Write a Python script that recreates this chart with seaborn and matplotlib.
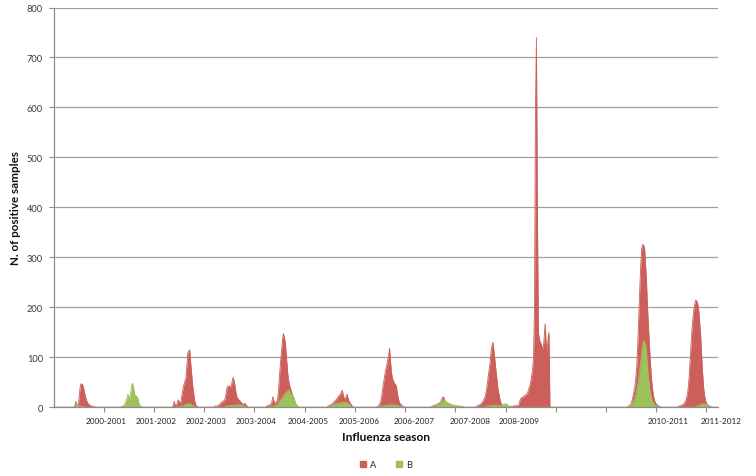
import numpy as np
import pandas as pd
import matplotlib
matplotlib.use('Agg')
import matplotlib.pyplot as plt
import seaborn as sns
from matplotlib.patches import Patch

# weekly counts of positive samples, one list per season (A = red, B = green)
season_start = [21, 69, 123, 166, 220, 283, 334, 390, 437, 594, 646]

a_2000 = [0, 3, 12, 4, 5, 10, 30, 46, 47, 46, 40, 30, 22, 15, 10, 7, 5, 4, 3, 2, 2, 1, 1, 0]
b_2000 = [0, 2, 5, 6, 3, 2, 3, 2, 2, 1, 1, 1, 0, 0, 0, 0, 0, 0, 0, 0, 0, 0, 0, 0]

a_2001 = [0, 0, 1, 1, 1, 2, 2, 2, 3, 3, 2, 3, 3, 3, 2, 2, 2, 1, 1, 1, 1, 0, 0, 0]
b_2001 = [0, 1, 2, 3, 4, 8, 13, 18, 26, 22, 17, 30, 45, 48, 38, 26, 24, 22, 20, 12, 5, 3, 1, 0]

a_2002 = [0, 5, 12, 4, 2, 8, 15, 12, 7, 12, 25, 36, 45, 52, 58, 80, 108, 112, 115, 90,
          68, 45, 30, 15, 6, 3, 1, 0]
b_2002 = [0, 0, 0, 0, 0, 0, 0, 1, 2, 2, 3, 3, 4, 5, 6, 6, 7, 8, 8, 7,
          5, 4, 3, 2, 1, 0, 0, 0]

a_2003 = [0, 2, 3, 2, 3, 4, 6, 8, 10, 12, 13, 13, 20, 32, 42, 42, 42, 43, 42, 52,
          60, 52, 42, 28, 20, 17, 15, 13, 11, 8, 6, 7, 8, 6, 3, 2, 0]
b_2003 = [0, 0, 0, 0, 0, 0, 0, 0, 0, 0, 0, 0, 2, 2, 3, 3, 3, 3, 4, 4,
          4, 4, 5, 5, 5, 5, 5, 5, 4, 4, 3, 2, 2, 1, 0, 0, 0]

a_2004 = [0, 3, 3, 4, 5, 6, 10, 21, 14, 8, 10, 12, 15, 35, 63, 90, 110, 135, 148, 140,
          130, 105, 80, 58, 48, 40, 34, 27, 21, 16, 10, 6, 3, 1, 0]
b_2004 = [0, 0, 0, 0, 1, 1, 2, 2, 3, 3, 4, 5, 6, 9, 12, 14, 17, 20, 23, 26,
          28, 30, 32, 34, 35, 30, 25, 24, 22, 20, 12, 7, 4, 2, 0]

a_2005 = [0, 2, 3, 4, 5, 6, 8, 10, 12, 14, 16, 19, 22, 24, 26, 30, 34, 24, 17, 18,
          22, 26, 18, 12, 9, 6, 3, 1, 0]
b_2005 = [0, 0, 1, 2, 3, 4, 5, 5, 6, 7, 7, 8, 8, 9, 9, 9, 10, 10, 10, 10,
          10, 9, 8, 6, 4, 2, 1, 0, 0]

a_2006 = [0, 1, 2, 4, 8, 13, 25, 40, 53, 65, 76, 84, 94, 105, 118, 90, 68, 58, 52, 48,
          46, 42, 28, 18, 10, 7, 5, 3, 2, 1, 0, 0]
b_2006 = [0, 0, 0, 1, 1, 2, 2, 3, 3, 3, 4, 4, 4, 4, 5, 5, 5, 5, 5, 5,
          4, 4, 4, 3, 3, 2, 2, 1, 1, 0, 0, 0]

a_2007 = [0, 1, 2, 3, 4, 4, 5, 6, 7, 8, 9, 12, 16, 21, 20, 14, 11, 9, 8, 7,
          6, 5, 4, 4, 3, 3, 3, 2, 2, 2, 2, 1, 1, 1, 1, 0, 0, 0]
b_2007 = [0, 0, 0, 1, 2, 3, 4, 5, 6, 7, 8, 10, 11, 12, 14, 15, 12, 10, 9, 8,
          8, 6, 5, 5, 4, 4, 4, 3, 3, 3, 2, 2, 2, 2, 1, 1, 0, 0]

a_2008 = [0, 2, 3, 4, 5, 6, 8, 10, 13, 17, 22, 32, 45, 60, 75, 90, 110, 125, 130, 112,
          95, 75, 58, 40, 28, 18, 10, 6, 3, 2, 2, 2, 2, 1, 1, 1, 2, 2, 2, 2,
          3, 3, 3, 3, 4, 6, 14, 18, 20, 20, 22, 24, 25, 26, 30, 36, 42, 50, 63, 75,
          100, 200, 600, 740, 400, 150, 137, 130, 127, 120, 116, 140, 167, 130, 112, 137, 150, 0, 0]
b_2008 = [0, 0, 0, 0, 0, 0, 0, 0, 0, 0, 1, 2, 2, 3, 3, 3, 4, 4, 4, 4,
          4, 4, 3, 3, 3, 3, 3, 4, 5, 6, 7, 7, 6, 5, 3, 2, 1, 1, 0, 0,
          0, 0, 0, 0, 0, 0, 0, 0, 0, 0, 0, 0, 0, 0, 0, 0, 0, 0, 0, 0,
          0, 0, 0, 0, 0, 0, 0, 0, 0, 0, 0, 0, 0, 0, 0, 0, 0, 0, 0]

a_2010 = [0, 2, 3, 5, 7, 14, 22, 32, 43, 62, 85, 130, 185, 237, 285, 318, 326, 324, 318, 285,
          250, 200, 160, 123, 90, 60, 40, 25, 16, 10, 7, 5, 3, 2, 1, 0]
b_2010 = [0, 2, 3, 4, 5, 7, 9, 13, 19, 26, 35, 47, 60, 75, 92, 110, 125, 133, 132, 125,
          108, 80, 58, 43, 28, 20, 13, 9, 7, 4, 3, 2, 1, 0, 0, 0]

a_2011 = [0, 2, 3, 3, 4, 5, 6, 8, 11, 15, 24, 36, 58, 90, 122, 155, 177, 195, 208, 215,
          212, 207, 195, 170, 145, 105, 70, 42, 25, 14, 9, 5, 4, 3, 2, 1]
b_2011 = [0, 0, 0, 0, 0, 0, 0, 0, 0, 0, 0, 0, 0, 0, 0, 0, 0, 0, 0, 1,
          2, 3, 3, 4, 5, 6, 7, 7, 7, 6, 5, 4, 3, 2, 1, 0]

season_labels = ['2000-2001', '2001-2002', '2002-2003', '2003-2004', '2004-2005',
                 '2005-2006', '2006-2007', '2007-2008', '2008-2009', '2010-2011', '2011-2012']
label_pos = [54.4, 106.2, 158.0, 209.8, 263.6, 316.4, 373.4, 431.4, 482.2, 636.5, 691.4]

n_weeks = 688
a_seasons = [a_2000, a_2001, a_2002, a_2003, a_2004, a_2005, a_2006, a_2007, a_2008, a_2010, a_2011]
b_seasons = [b_2000, b_2001, b_2002, b_2003, b_2004, b_2005, b_2006, b_2007, b_2008, b_2010, b_2011]

a_all = np.zeros(n_weeks + 1)
b_all = np.zeros(n_weeks + 1)
for s, av, bv in zip(season_start, a_seasons, b_seasons):
    a_all[s:s + len(av)] = av
    b_all[s:s + len(bv)] = bv

df = pd.DataFrame({'week': np.arange(n_weeks + 1), 'A': a_all, 'B': b_all})

red = '#CD5F5A'
green = '#9EC15B'

sns.set_theme(style='white')
plt.rcParams['font.family'] = ['Lato', 'DejaVu Sans']

fig = plt.figure(figsize=(7.56, 4.77), dpi=100)
ax = fig.add_axes([53.5 / 756, 1 - 408.3 / 477, (718 - 53.5) / 756, (408.3 - 8.5) / 477])

ax.fill_between(df['week'], df['A'], color=red, lw=0, zorder=1)
sns.lineplot(data=df, x='week', y='A', color=red, lw=0.6, ax=ax, zorder=1.1)
ax.fill_between(df['week'], df['B'], color=green, lw=0, zorder=1.2)
sns.lineplot(data=df, x='week', y='B', color=green, lw=0.6, ax=ax, zorder=1.3)

ax.set_xlim(0, n_weeks)
ax.set_ylim(0, 800)
ax.set_yticks(range(0, 801, 100))
ax.yaxis.grid(True, color='#A0A0A0', lw=0.9)
ax.set_axisbelow(True)
ax.set_xticks([52 * k for k in range(1, 14)])
ax.set_xticklabels([])

for side in ['top', 'right']:
    ax.spines[side].set_visible(False)
for side in ['left', 'bottom']:
    ax.spines[side].set_color('#8C8C8C')
    ax.spines[side].set_linewidth(0.9)
ax.tick_params(axis='both', direction='out', length=3.5, width=0.8, color='#8C8C8C',
               bottom=True, left=True)
ax.tick_params(axis='y', labelsize=6.7, labelcolor='#3A3A3A', pad=4)

for lab, pos in zip(season_labels, label_pos):
    ax.text(pos, -0.033, lab, transform=ax.get_xaxis_transform(), ha='center', va='center',
            fontsize=5.9, color='#222222')

ax.set_xlabel('')
ax.set_ylabel('')
fig.text(386 / 756, 1 - 438 / 477, 'Influenza season', ha='center', va='center',
         fontsize=8.6, fontweight='bold', color='#111111')
fig.text(16 / 756, 1 - 208.4 / 477, 'N. of positive samples', ha='center', va='center',
         rotation=90, fontsize=8.4, fontweight='bold', color='#111111')

handles = [Patch(color=red, label='A'), Patch(color=green, label='B')]
fig.legend(handles=handles, loc='center', bbox_to_anchor=(386 / 756, 1 - 465.5 / 477), ncol=2,
           frameon=False, fontsize=6.7, handlelength=0.65, handleheight=0.65,
           handletextpad=0.4, columnspacing=2.2)

plt.savefig('out.png', dpi=100)
